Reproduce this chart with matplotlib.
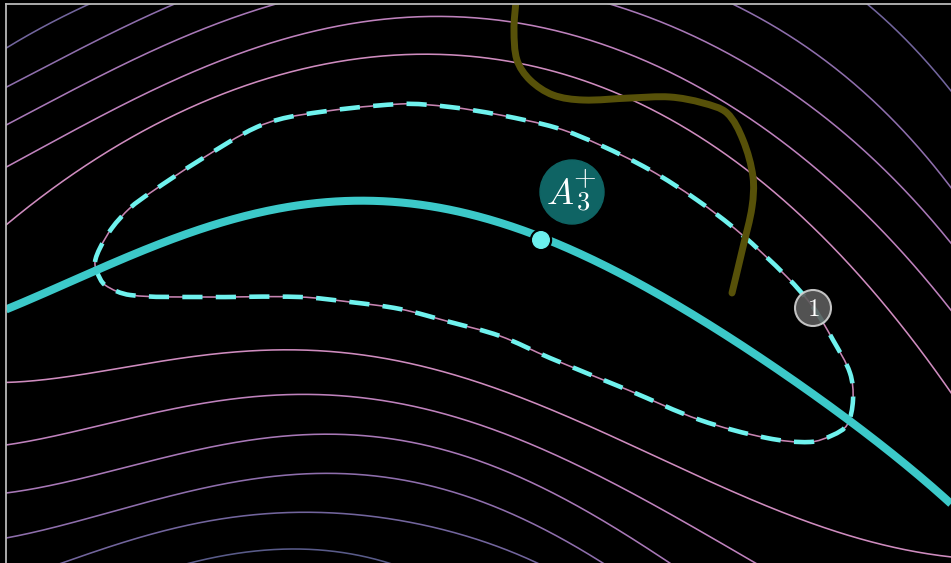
import numpy as np
import matplotlib
matplotlib.use("Agg")
import matplotlib.pyplot as plt
from matplotlib.patches import Circle, Rectangle, PathPatch
from matplotlib.path import Path

plt.rcParams["mathtext.fontset"] = "cm"

W, H = 951, 563

# ---- level curves of the landscape, as (x, y) points along each curve ----
loop_level0 = [(95, 262), (100, 248), (112, 228), (130, 208), (150, 193), (200, 160),
               (257, 127), (300, 115), (400, 104), (450, 107), (500, 115), (557, 128),
               (600, 145), (650, 170), (697, 200), (740, 233), (787, 277), (813, 307),
               (833, 340), (850, 373), (853, 400), (847, 425), (833, 435), (810, 442),
               (767, 438), (700, 420), (628, 390), (550, 358), (500, 336), (450, 322),
               (400, 309), (350, 302), (300, 297), (200, 297), (130, 295), (105, 285),
               (97, 272)]
upper_1 = [(6, 225), (37, 200), (170, 118), (300, 68), (410, 55), (513, 63), (620, 95),
           (700, 135), (783, 200), (870, 290), (930, 360), (955, 400)]
upper_2 = [(6, 167), (160, 88), (300, 32), (410, 18), (513, 25), (620, 48), (700, 88),
           (767, 130), (850, 200), (955, 315)]
upper_3 = [(6, 125), (140, 57), (273, 4), (443, -20), (613, 5), (703, 40), (840, 130),
           (955, 248)]
upper_4 = [(6, 87), (90, 45), (172, 4), (455, -58), (737, 5), (820, 58), (903, 130),
           (955, 193)]
upper_5 = [(6, 48), (90, 4), (477, -96), (863, 5), (917, 43), (955, 100)]
lower_1 = [(6, 383), (100, 370), (200, 356), (300, 352), (450, 373), (550, 405),
           (630, 447), (700, 480), (800, 517), (900, 548), (955, 558)]
lower_2 = [(6, 445), (167, 410), (320, 395), (467, 420), (630, 493), (700, 530),
           (760, 566)]
lower_3 = [(6, 493), (167, 457), (320, 434), (467, 457), (630, 537), (680, 570)]
lower_4 = [(6, 538), (167, 497), (320, 473), (467, 497), (600, 560), (620, 575)]
lower_5 = [(6, 582), (70, 560), (200, 523), (320, 512), (467, 537), (533, 560),
           (560, 575)]
lower_6 = [(150, 575), (200, 560), (320, 551), (383, 560), (420, 575)]

contour_colors = ["#c784b2", "#cf8cbf", "#bf82bd", "#a878b7", "#8e6eac", "#72659d",
                  "#595b89"]

# ---- highlighted curves ----
ridge_x = [6, 50, 100, 150, 200, 250, 300, 355, 400, 450, 500, 541, 600, 650, 700,
           760, 820, 853, 900, 951]
ridge_y = [310, 290, 268, 248, 230, 216, 205, 200, 201, 208, 224, 240, 263, 289, 317,
           360, 397, 423, 462, 503]
olive_x = [516, 514, 517, 530, 553, 583, 630, 670, 703, 727, 743, 753, 752, 743, 732]
olive_y = [0, 30, 60, 80, 95, 100, 98, 97, 103, 113, 140, 177, 207, 247, 293]
marker_point = (541, 240)
label_a3 = (572, 192)
label_one = (813, 308)


def smooth_path(points, closed=False):
    """Cubic Bezier path passing through the given points (chord-length Catmull-Rom)."""
    P = np.asarray(points, float)
    if closed:
        P = np.vstack([P[-1], P, P[0], P[1]])
    else:
        P = np.vstack([2 * P[0] - P[1], P, 2 * P[-1] - P[-2]])
    verts = [P[1]]
    codes = [Path.MOVETO]
    for i in range(1, len(P) - 2):
        p0, p1, p2, p3 = P[i - 1], P[i], P[i + 1], P[i + 2]
        d01 = np.linalg.norm(p1 - p0) + 1e-9
        d12 = np.linalg.norm(p2 - p1) + 1e-9
        d23 = np.linalg.norm(p3 - p2) + 1e-9
        m1 = (p2 - p0) / (d01 + d12)
        m2 = (p3 - p1) / (d12 + d23)
        verts += [p1 + m1 * d12 / 3, p2 - m2 * d12 / 3, p2]
        codes += [Path.CURVE4] * 3
    return Path(verts, codes)


fig = plt.figure(figsize=(W / 100, H / 100), dpi=100, facecolor="black")
ax = fig.add_axes([0, 0, 1, 1])
ax.set_facecolor("black")
ax.set_xlim(0, W)
ax.set_ylim(H, 0)
ax.axis("off")

frame = Rectangle((6, 4), W, H, transform=ax.transData, visible=False)
ax.add_patch(frame)


def draw_curve(points, closed=False, **kw):
    patch = PathPatch(smooth_path(points, closed), fill=False, **kw)
    ax.add_patch(patch)
    patch.set_clip_path(frame)
    return patch


def draw_graph(xs_pts, ys_pts, max_deg=5, **kw):
    """Least-squares smooth graph y(x) through sampled points."""
    xp = np.asarray(xs_pts, float)
    yp = np.asarray(ys_pts, float)
    coef = np.polyfit(xp, yp, min(len(xp) - 2, max_deg))
    xs = np.linspace(xp[0], xp[-1], 500)
    line, = ax.plot(xs, np.polyval(coef, xs), **kw)
    line.set_clip_path(frame)
    return line


# contour family
draw_curve(loop_level0, closed=True, edgecolor=contour_colors[0], lw=1.15, zorder=1)
for k, (up, lo) in enumerate([(upper_1, lower_1), (upper_2, lower_2), (upper_3, lower_3),
                              (upper_4, lower_4), (upper_5, lower_5), (None, lower_6)],
                             start=1):
    for curve in (up, lo):
        if curve is not None:
            cx, cy = zip(*curve)
            draw_graph(cx, cy, color=contour_colors[k], lw=1.15, zorder=1)

# dashed highlight on the innermost level
draw_curve(loop_level0, closed=True, edgecolor="#6ff2ee", lw=3.3,
           linestyle=(0, (4.4, 2.9)), capstyle="butt", zorder=3)

draw_curve(list(zip(olive_x, olive_y)), edgecolor="#575109", lw=5.0,
           capstyle="round", zorder=4)
draw_graph(ridge_x, ridge_y, max_deg=6, color="#3cc9c9", lw=5.8,
           solid_capstyle="butt", zorder=5)

ax.add_patch(Circle(marker_point, 10.5, color="black", zorder=6))
ax.add_patch(Circle(marker_point, 8.3, color="#6cf0ee", zorder=7))

ax.add_patch(Circle(label_a3, 32, color="#0f6464", zorder=8))
ax.text(label_a3[0] - 12, label_a3[1] + 2, r"$A$", fontsize=26, color="white",
        ha="center", va="center", zorder=9)
ax.text(label_a3[0] + 11, label_a3[1] + 11, r"$3$", fontsize=19, color="white",
        ha="center", va="center", zorder=9)
ax.text(label_a3[0] + 12, label_a3[1] - 14, r"$+$", fontsize=21, color="white",
        ha="center", va="center", zorder=9)

ax.add_patch(Circle(label_one, 18, facecolor="#5c5c5c", edgecolor="#d4d4d4",
                    lw=1.5, alpha=0.9, zorder=8))
ax.text(label_one[0], label_one[1] + 1, r"$1$", fontsize=18, color="white",
        ha="center", va="center", zorder=9)

# frame edges
ax.plot([6, W + 5], [4, 4], color="#b9b9b9", lw=1.3, zorder=10)
ax.plot([6, 6], [4, H + 5], color="#b9b9b9", lw=1.3, zorder=10)

fig.savefig("out.png", dpi=100, facecolor="black")
